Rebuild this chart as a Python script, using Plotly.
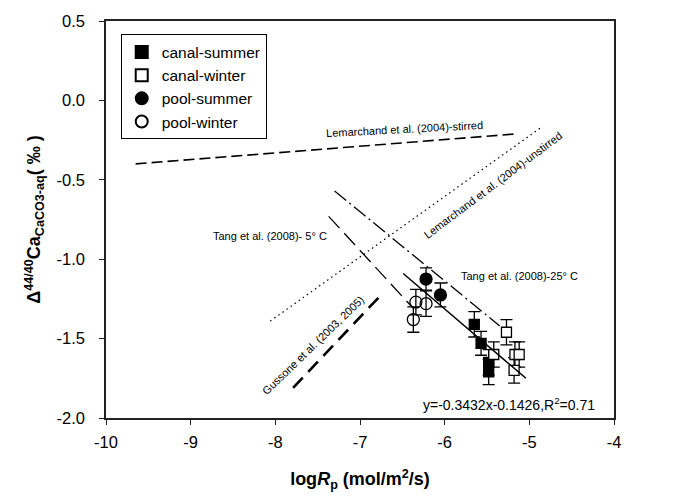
import plotly.graph_objects as go

# ---- data ----
canal_summer_x = [-5.65, -5.57, -5.48, -5.48]
canal_summer_y = [-1.41, -1.53, -1.65, -1.71]
canal_summer_err = [0.08, 0.075, 0.08, 0.08]

canal_winter_x = [-5.42, -5.27, -5.17, -5.12, -5.18]
canal_winter_y = [-1.60, -1.46, -1.60, -1.60, -1.70]
canal_winter_err = [0.08, 0.08, 0.08, 0.08, 0.08]

pool_summer_x = [-6.22, -6.05]
pool_summer_y = [-1.125, -1.225]
pool_summer_err = [0.07, 0.075]

pool_winter_x = [-6.37, -6.34, -6.22]
pool_winter_y = [-1.38, -1.27, -1.28]
pool_winter_err = [0.08, 0.08, 0.08]

lem_stirred_x = [-9.65, -5.13]
lem_stirred_y = [-0.40, -0.21]
lem_unstirred_x = [-8.06, -4.86]
lem_unstirred_y = [-1.39, -0.17]
tang5_x = [-7.37, -6.37]
tang5_y = [-0.73, -1.31]
tang25_x = [-7.30, -5.35]
tang25_y = [-0.57, -1.42]
gussone_x = [-7.79, -6.76]
gussone_y = [-1.81, -1.23]
fit_x = [-6.49, -5.04]
fit_y = [-1.09, -1.75]

x_ticks = [-10, -9, -8, -7, -6, -5, -4]
y_ticks = [0.5, 0.0, -0.5, -1.0, -1.5, -2.0]
y_ticklabels = ["0.5", "0.0", "-0.5", "-1.0", "-1.5", "-2.0"]

FONT = "Liberation Sans, Arial, sans-serif"

fig = go.Figure()

def line(x, y, dash, width):
    fig.add_trace(go.Scatter(x=x, y=y, mode="lines", showlegend=False,
                             line=dict(color="black", width=width, dash=dash),
                             hoverinfo="skip"))

line(lem_stirred_x, lem_stirred_y, "11px,5px", 1.6)
line(lem_unstirred_x, lem_unstirred_y, "1.5px,3.5px", 1.2)
line(tang5_x, tang5_y, "16px,7px", 1.3)
line(tang25_x, tang25_y, "15px,4px,2px,4px", 1.3)
line(gussone_x, gussone_y, "14px,8px", 2.6)

def pts(x, y, err, name, symbol, fill, size):
    fig.add_trace(go.Scatter(
        x=x, y=y, mode="markers", name=name,
        error_y=dict(type="data", array=err, visible=True, color="black",
                     thickness=1.3, width=6),
        marker=dict(symbol=symbol, size=size, color=fill,
                    line=dict(color="black", width=1.3))))

pts(canal_summer_x, canal_summer_y, canal_summer_err, "canal-summer", "square", "black", 10)
pts(canal_winter_x, canal_winter_y, canal_winter_err, "canal-winter", "square", "white", 10)
pts(pool_summer_x, pool_summer_y, pool_summer_err, "pool-summer", "circle", "black", 12)
pts(pool_winter_x, pool_winter_y, pool_winter_err, "pool-winter", "circle-open", "black", 12)

line(fit_x, fit_y, "solid", 1.5)

ann_font = dict(family=FONT, size=11, color="black")
annots = [
    dict(x=-6.47, y=-0.177, text="Lemarchand et al. (2004)-stirred", textangle=-3),
    dict(x=-5.43, y=-0.53, text="Lemarchand et al. (2004)-unstirred", textangle=-37),
    dict(x=-8.06, y=-0.856, text="Tang et al. (2008)- 5° C", textangle=0),
    dict(x=-5.12, y=-1.104, text="Tang et al. (2008)-25° C", textangle=0),
    dict(x=-7.55, y=-1.542, text="Gussone et al. (2003, 2005)", textangle=-44),
]
for a in annots:
    fig.add_annotation(x=a["x"], y=a["y"], text=a["text"], textangle=a["textangle"],
                       showarrow=False, font=ann_font, xanchor="center", yanchor="middle")
fig.add_annotation(x=-4.2, y=-1.912, text="y=-0.3432x-0.1426,R<sup>2</sup>=0.71",
                   showarrow=False, xanchor="right", yanchor="middle",
                   font=dict(family=FONT, size=14, color="black"))

axis_common = dict(showline=True, linecolor="#222", linewidth=1.5, mirror=True,
                   ticks="outside", ticklen=5, tickwidth=1.3, tickcolor="#222",
                   showgrid=False, zeroline=False,
                   tickfont=dict(family=FONT, size=16.5, color="black"))

fig.update_layout(
    width=673, height=500,
    margin=dict(l=106, r=59, t=18, b=82),
    plot_bgcolor="white", paper_bgcolor="white",
    xaxis=dict(range=[-10, -4], tickvals=x_ticks, ticktext=[str(v) for v in x_ticks],
               ticklabelstandoff=3,
               title=dict(text="<b>log<i>R</i><sub>p</sub> (mol/m<sup>2</sup>/s)</b>",
                          font=dict(family=FONT, size=18, color="black"), standoff=23),
               **axis_common),
    yaxis=dict(range=[-2.0, 0.5], tickvals=y_ticks, ticktext=y_ticklabels,
               ticklabelstandoff=11,
               title=dict(text="<b>Δ<sup>44/40</sup>Ca<sub>CaCO3-aq</sub>( ‰ )</b>",
                          font=dict(family=FONT, size=18, color="black"), standoff=11),
               **axis_common),
    legend=dict(x=0.029, y=0.966, xanchor="left", yanchor="top",
                bordercolor="black", borderwidth=1, bgcolor="white",
                font=dict(family=FONT, size=15.5, color="black"),
                tracegroupgap=0, itemsizing="constant"),
    showlegend=True,
)

fig.write_html("out.html")
